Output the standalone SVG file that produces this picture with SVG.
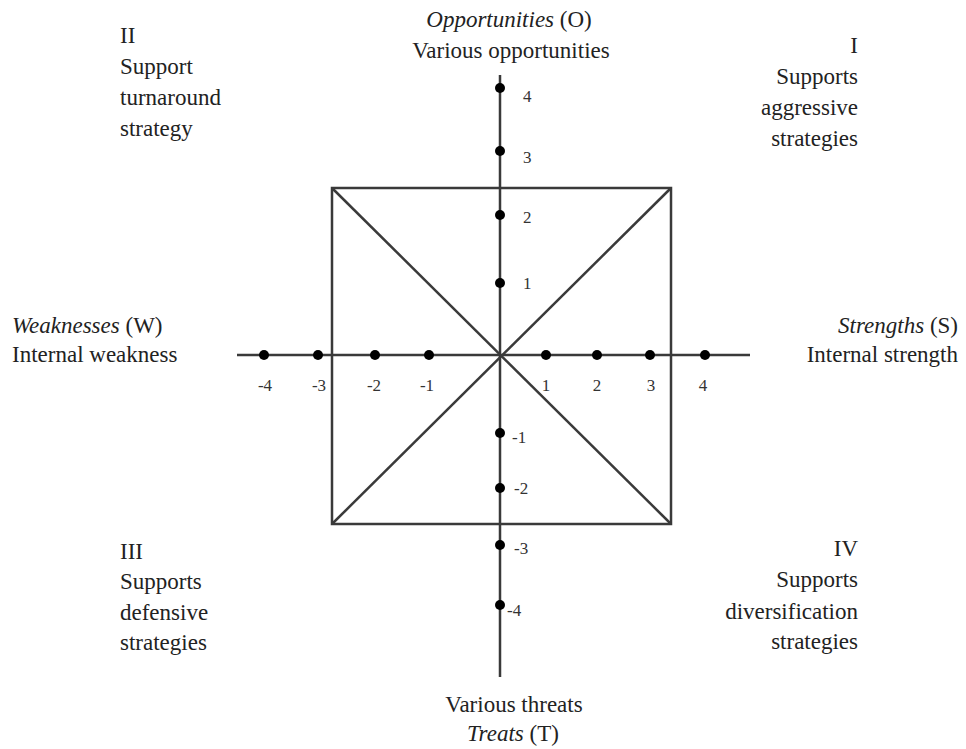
<svg xmlns="http://www.w3.org/2000/svg" width="966" height="749" viewBox="0 0 966 749">
<style>
.t{font-family:"Liberation Serif","Times New Roman",serif;font-size:23px;fill:#222}
.n{font-family:"Liberation Serif","Times New Roman",serif;font-size:17px;fill:#333}
.m{text-anchor:middle}
.e{text-anchor:end}
.ln{stroke:#3a3a3a;stroke-width:2.5;fill:none}
.d{fill:#000}
</style>
<rect width="966" height="749" fill="#fff"/>
<g id="connectors">
<line class="ln" x1="500" y1="75" x2="500" y2="677"/>
<line class="ln" x1="237" y1="355" x2="750" y2="355"/>
<rect class="ln" x="332" y="188" width="339" height="336"/>
<line class="ln" x1="332" y1="188" x2="671" y2="524"/>
<line class="ln" x1="671" y1="188" x2="332" y2="524"/>
</g>
<g id="dots">
<circle class="d" cx="500" cy="88" r="5"/>
<circle class="d" cx="500" cy="151" r="5"/>
<circle class="d" cx="500" cy="215" r="5"/>
<circle class="d" cx="500" cy="283" r="5"/>
<circle class="d" cx="500" cy="433" r="5"/>
<circle class="d" cx="500" cy="488" r="5"/>
<circle class="d" cx="500" cy="545" r="5"/>
<circle class="d" cx="500" cy="605" r="5"/>
<circle class="d" cx="264" cy="355" r="5"/>
<circle class="d" cx="318" cy="355" r="5"/>
<circle class="d" cx="375" cy="355" r="5"/>
<circle class="d" cx="429" cy="355" r="5"/>
<circle class="d" cx="546" cy="355" r="5"/>
<circle class="d" cx="597" cy="355" r="5"/>
<circle class="d" cx="650" cy="355" r="5"/>
<circle class="d" cx="705" cy="355" r="5"/>
</g>
<g id="ticks">
<text class="n" x="523" y="102">4</text>
<text class="n" x="523" y="163">3</text>
<text class="n" x="523" y="223">2</text>
<text class="n" x="523" y="289">1</text>
<text class="n" x="512" y="443">-1</text>
<text class="n" x="514" y="494">-2</text>
<text class="n" x="514" y="554">-3</text>
<text class="n" x="507" y="616">-4</text>
<text class="n m" x="265" y="391">-4</text>
<text class="n m" x="319" y="391">-3</text>
<text class="n m" x="374" y="391">-2</text>
<text class="n m" x="427" y="391">-1</text>
<text class="n m" x="546" y="391">1</text>
<text class="n m" x="597" y="391">2</text>
<text class="n m" x="651" y="391">3</text>
<text class="n m" x="703" y="391">4</text>
</g>
<g id="top">
<text class="t m" x="509" y="27"><tspan font-style="italic">Opportunities</tspan> (O)</text>
<text class="t m" x="511" y="58">Various opportunities</text>
</g>
<g id="bottom">
<text class="t m" x="514" y="712">Various threats</text>
<text class="t m" x="513" y="741"><tspan font-style="italic">Treats</tspan> (T)</text>
</g>
<g id="left">
<text class="t" x="12" y="333"><tspan font-style="italic">Weaknesses</tspan> (W)</text>
<text class="t" x="12" y="362">Internal weakness</text>
</g>
<g id="right">
<text class="t e" x="958" y="333"><tspan font-style="italic">Strengths</tspan> (S)</text>
<text class="t e" x="958" y="362">Internal strength</text>
</g>
<g id="q2">
<text class="t" x="120" y="43">II</text>
<text class="t" x="120" y="74">Support</text>
<text class="t" x="120" y="105">turnaround</text>
<text class="t" x="120" y="136">strategy</text>
</g>
<g id="q1">
<text class="t e" x="858" y="53">I</text>
<text class="t e" x="858" y="84">Supports</text>
<text class="t e" x="858" y="115">aggressive</text>
<text class="t e" x="858" y="146">strategies</text>
</g>
<g id="q3">
<text class="t" x="120" y="559">III</text>
<text class="t" x="120" y="589">Supports</text>
<text class="t" x="120" y="620">defensive</text>
<text class="t" x="120" y="650">strategies</text>
</g>
<g id="q4">
<text class="t e" x="858" y="556">IV</text>
<text class="t e" x="858" y="587">Supports</text>
<text class="t e" x="858" y="619">diversification</text>
<text class="t e" x="858" y="649">strategies</text>
</g>
</svg>
